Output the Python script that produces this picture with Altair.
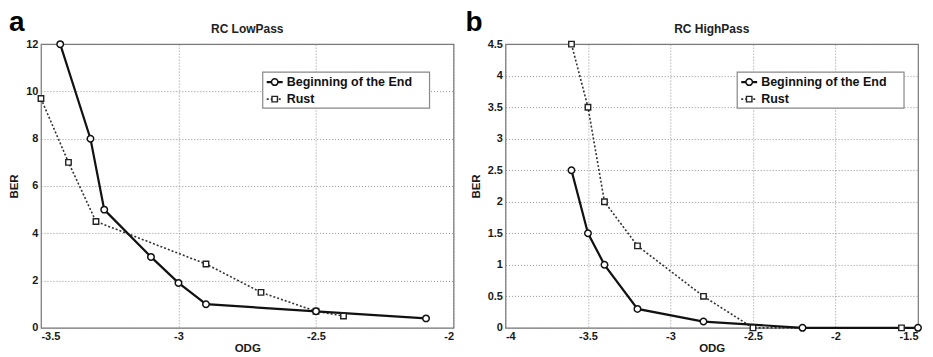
import altair as alt
import pandas as pd

# ---- data ----
a_begin_odg = [-3.43, -3.32, -3.27, -3.1, -3.0, -2.9, -2.5, -2.1]
a_begin_ber = [12.0, 8.0, 5.0, 3.0, 1.9, 1.0, 0.7, 0.4]
a_rust_odg = [-3.5, -3.4, -3.3, -2.9, -2.7, -2.5, -2.4]
a_rust_ber = [9.7, 7.0, 4.5, 2.7, 1.5, 0.7, 0.5]

b_begin_odg = [-3.6, -3.5, -3.4, -3.2, -2.8, -2.2, -1.5]
b_begin_ber = [2.5, 1.5, 1.0, 0.3, 0.1, 0.0, 0.0]
b_rust_odg = [-3.6, -3.5, -3.4, -3.2, -2.8, -2.5, -1.6]
b_rust_ber = [4.5, 3.5, 2.0, 1.3, 0.5, 0.0, 0.0]

series_names = ["Beginning of the End", "Rust"]
a_x_ticks = [-3.5, -3.0, -2.5, -2.0]
a_y_ticks = [0, 2, 4, 6, 8, 10, 12]
b_x_ticks = [-4.0, -3.5, -3.0, -2.5, -2.0, -1.5]
b_y_ticks = [0, 0.5, 1, 1.5, 2, 2.5, 3, 3.5, 4, 4.5]

FONT = "Liberation Sans"
W, H = 413, 284
one = pd.DataFrame({"k": [0]})


def panel(bx, by, rx, ry, xdom, ydom, xticks, yticks, title, letter, leg_x0, letter_x):
    df_b = pd.DataFrame({"ODG": bx, "BER": by, "i": range(len(bx))})
    df_r = pd.DataFrame({"ODG": rx, "BER": ry, "i": range(len(rx))})
    xs = alt.Scale(domain=xdom, nice=False, zero=False)
    ys = alt.Scale(domain=ydom, nice=False, zero=False)
    xax = alt.Axis(values=xticks, title="ODG", labelExpr="toString(datum.value)")
    yax = alt.Axis(values=yticks, title="BER", labelExpr="toString(datum.value)")
    X = alt.X("ODG:Q", scale=xs, axis=xax)
    Y = alt.Y("BER:Q", scale=ys, axis=yax)

    rust_line = alt.Chart(df_r).mark_line(
        color="#333333", strokeWidth=1.6, strokeDash=[2, 2], clip=False
    ).encode(x=X, y=Y, order="i:Q")
    rust_pts = alt.Chart(df_r).mark_point(
        shape="square", size=30, filled=True, fill="white", stroke="#222222",
        strokeWidth=1.4, opacity=1, clip=False
    ).encode(x=X, y=Y)
    beg_line = alt.Chart(df_b).mark_line(
        color="#111111", strokeWidth=2.2, clip=False
    ).encode(x=X, y=Y, order="i:Q")
    beg_pts = alt.Chart(df_b).mark_point(
        shape="circle", size=42, filled=True, fill="white", stroke="#111111",
        strokeWidth=1.5, opacity=1, clip=False
    ).encode(x=X, y=Y)

    # legend (MATLAB-style box)
    box = alt.Chart(one).mark_rect(fill="white", stroke="#888888", strokeWidth=1.2).encode(
        x=alt.value(leg_x0), x2=alt.value(leg_x0 + 167), y=alt.value(28), y2=alt.value(64)
    )
    l1 = alt.Chart(one).mark_rule(color="#111111", strokeWidth=2.2).encode(
        x=alt.value(leg_x0 + 4), x2=alt.value(leg_x0 + 20), y=alt.value(38)
    )
    l2 = alt.Chart(one).mark_rule(color="#333333", strokeWidth=1.6, strokeDash=[2, 2]).encode(
        x=alt.value(leg_x0 + 4), x2=alt.value(leg_x0 + 20), y=alt.value(55)
    )
    p1 = alt.Chart(one).mark_point(shape="circle", size=42, filled=True, fill="white",
                                   stroke="#111111", strokeWidth=1.5, opacity=1).encode(
        x=alt.value(leg_x0 + 12), y=alt.value(38)
    )
    p2 = alt.Chart(one).mark_point(shape="square", size=30, filled=True, fill="white",
                                   stroke="#222222", strokeWidth=1.4, opacity=1).encode(
        x=alt.value(leg_x0 + 12), y=alt.value(55)
    )
    t1 = alt.Chart(one).mark_text(align="left", baseline="middle", font=FONT, fontSize=12.5,
                                  fontWeight="bold", color="#111111").encode(
        x=alt.value(leg_x0 + 24), y=alt.value(38), text=alt.value(series_names[0])
    )
    t2 = alt.Chart(one).mark_text(align="left", baseline="middle", font=FONT, fontSize=12.5,
                                  fontWeight="bold", color="#111111").encode(
        x=alt.value(leg_x0 + 24), y=alt.value(55), text=alt.value(series_names[1])
    )
    lt = alt.Chart(one).mark_text(align="left", baseline="alphabetic", font=FONT, fontSize=28,
                                  fontWeight="bold", color="#000000").encode(
        x=alt.value(letter_x), y=alt.value(-13), text=alt.value(letter)
    )
    tt = alt.Chart(one).mark_text(align="center", baseline="middle", font=FONT, fontSize=12,
                                  fontWeight="bold", color="#222222").encode(
        x=alt.value(W / 2), y=alt.value(-15), text=alt.value(title)
    )

    return alt.layer(
        rust_line, beg_line, rust_pts, beg_pts, box, l1, l2, p1, p2, t1, t2, lt, tt
    ).properties(width=W, height=H)


pa = panel(a_begin_odg, a_begin_ber, a_rust_odg, a_rust_ber, [-3.5, -2.0], [0, 12],
           a_x_ticks, a_y_ticks, "RC LowPass", "a", 222, -32)
pb = panel(b_begin_odg, b_begin_ber, b_rust_odg, b_rust_ber, [-4.0, -1.5], [0, 4.5],
           b_x_ticks, b_y_ticks, "RC HighPass", "b", 232, -40)

chart = alt.hconcat(pa, pb, spacing=10).properties(
    padding={"left": 0, "top": 0, "right": 0, "bottom": 0},
    background="white",
).configure_view(
    stroke="#777777", strokeWidth=1.2
).configure_axis(
    labelFont=FONT, labelFontSize=11, labelFontWeight="bold", labelColor="#1a1a1a",
    titleFont=FONT, titleFontSize=11.5, titleFontWeight="bold", titleColor="#1a1a1a",
    ticks=False, domain=False, labelPadding=3,
    grid=True, gridColor="#888888", gridDash=[1, 2], gridWidth=1, gridOpacity=0.9,
    labelOverlap=False,
).configure_axisX(titlePadding=1).configure_axisY(titlePadding=6)

chart.save("out.html", embed_options={"renderer": "svg", "actions": False})
